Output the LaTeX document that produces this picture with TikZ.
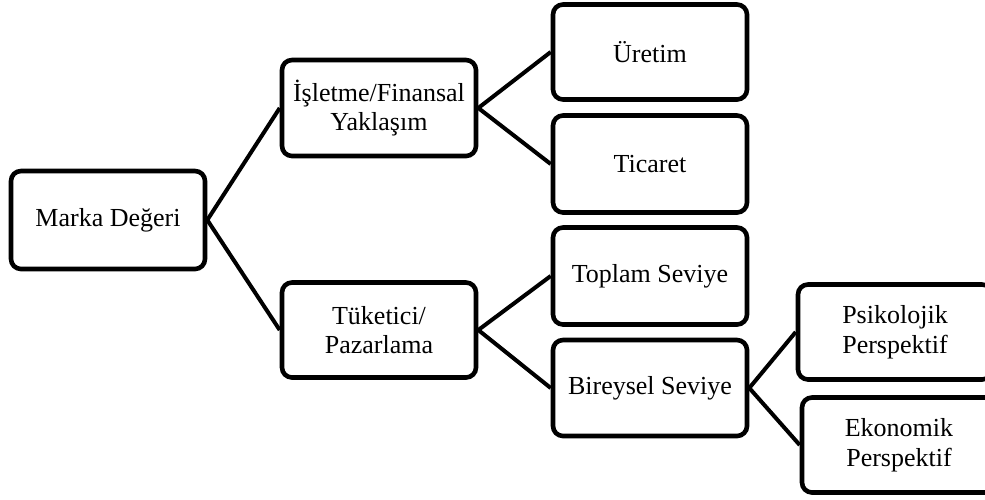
\documentclass[tikz,border=0pt]{standalone}
\usepackage{fontspec}
\setmainfont{Liberation Serif}
\begin{document}
\begin{tikzpicture}[x=1pt,y=-1pt,
  box/.style={draw=black, line width=4.6pt, rounded corners=10pt, fill=white,
    minimum width=194pt, minimum height=96pt, inner sep=0pt, align=center,
    font=\fontsize{26}{29.5}\selectfont},
  link/.style={draw=black, line width=4pt}]
\useasboundingbox (0,0) rectangle (985,499);
\clip (0,0) rectangle (985,499);
% root
\node[box, minimum height=98pt] (marka) at (108,220) {Marka Değeri};
% first level
\node[box] (isletme) at (379,108) {İşletme/Finansal\\Yaklaşım};
\node[box, minimum height=95pt] (tuketici) at (379,330) {Tüketici/\\Pazarlama};
% second level
\node[box, minimum height=95pt] (uretim) at (650,52) {Üretim};
\node[box, minimum height=97pt] (ticaret) at (650,164) {Ticaret};
\node[box, minimum height=97pt] (toplam) at (650,276) {Toplam Seviye};
\node[box] (bireysel) at (650,388) {Bireysel Seviye};
% third level
\node[box, minimum height=95pt] (psiko) at (895,332) {Psikolojik\\Perspektif};
\node[box, minimum height=95pt] (ekonomik) at (899,445) {Ekonomik\\Perspektif};
% connectors
\draw[link] (marka.east) -- (isletme.west);
\draw[link] (marka.east) -- (tuketici.west);
\draw[link] (isletme.east) -- (uretim.west);
\draw[link] (isletme.east) -- (ticaret.west);
\draw[link] (tuketici.east) -- (toplam.west);
\draw[link] (tuketici.east) -- (bireysel.west);
\draw[link] (bireysel.east) -- (psiko.west);
\draw[link] (bireysel.east) -- (ekonomik.west);
\end{tikzpicture}
\end{document}
